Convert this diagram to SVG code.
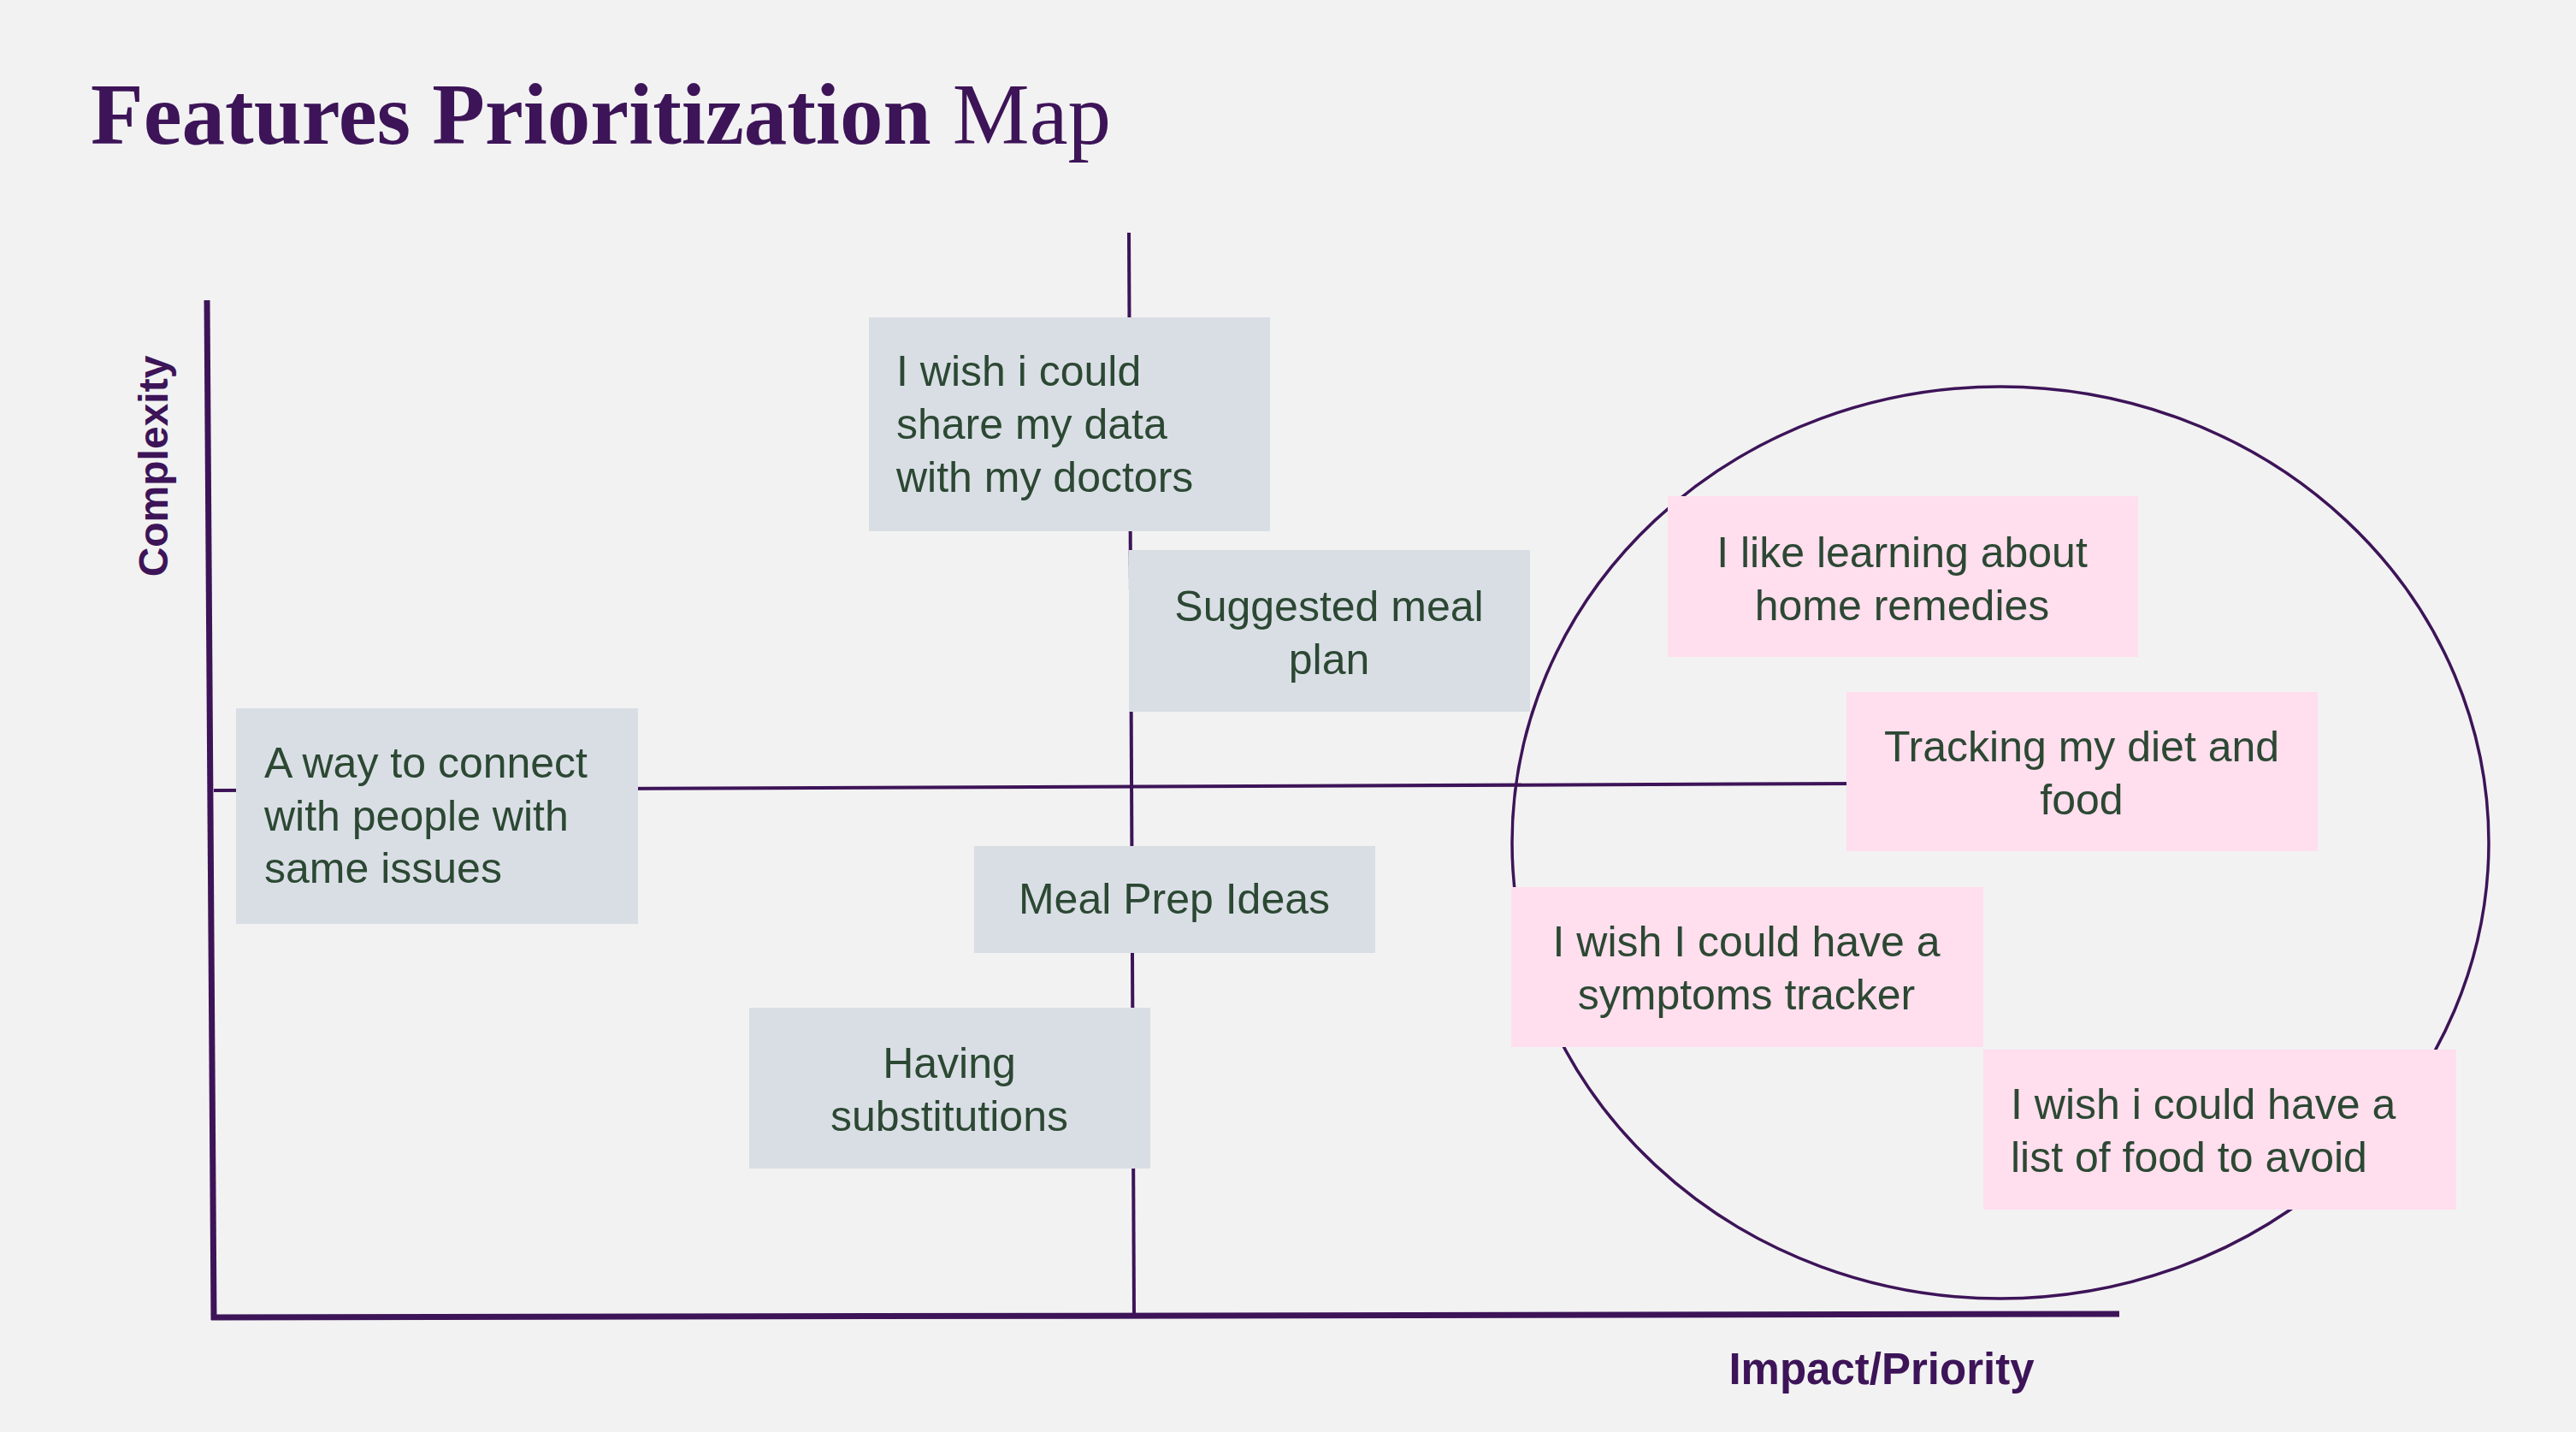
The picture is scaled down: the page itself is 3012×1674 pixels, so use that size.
<svg xmlns="http://www.w3.org/2000/svg" width="3012" height="1674" viewBox="0 0 3012 1674">
<style>
.bg{fill:#f2f2f2}
.ax{stroke:#3d1458;stroke-width:7;fill:none;stroke-linecap:butt}
.mid{stroke:#3d1458;stroke-width:4;fill:none}
.ring{stroke:#3d1458;stroke-width:3.5;fill:none}
.gray{fill:#d9dee5}
.pink{fill:#ffdeee}
.t{font-family:"Liberation Sans",Arial,sans-serif;font-size:50px;fill:#2c4833}
.c{text-anchor:middle}
.lab{font-family:"Liberation Sans",Arial,sans-serif;font-size:48px;font-weight:bold;fill:#3d1458}
.lab2{font-size:51px}
.title{font-family:"Liberation Serif","Times New Roman",serif;font-size:101px;fill:#3d1458}
</style>
<rect class="bg" x="0" y="0" width="3012" height="1674"/>
<text class="title" x="106" y="168"><tspan font-weight="bold">Features Prioritization</tspan> Map</text>
<g id="connectors">
<line class="ax" x1="242" y1="351" x2="250" y2="1543"/>
<line class="ax" x1="247" y1="1540" x2="2478" y2="1536"/>
<line class="mid" x1="250" y1="924" x2="2170" y2="916"/>
<line class="mid" x1="1320" y1="272" x2="1326" y2="1537"/>
<ellipse class="ring" cx="2339" cy="985" rx="571" ry="533"/>
</g>
<text class="lab" transform="translate(196,545) rotate(-90)" text-anchor="middle">Complexity</text>
<text class="lab lab2" x="2200" y="1618" text-anchor="middle">Impact/Priority</text>
<g id="n-share">
<rect class="gray" x="1016" y="371" width="469" height="250"/>
<text class="t" x="1048" y="451">I wish i could</text>
<text class="t" x="1048" y="513">share my data</text>
<text class="t" x="1048" y="575">with my doctors</text>
</g>
<g id="n-meal-plan">
<rect class="gray" x="1320" y="643" width="469" height="189"/>
<text class="t c" x="1554" y="726">Suggested meal</text>
<text class="t c" x="1554" y="788">plan</text>
</g>
<g id="n-connect">
<rect class="gray" x="276" y="828" width="470" height="252"/>
<text class="t" x="309" y="909">A way to connect</text>
<text class="t" x="309" y="971">with people with</text>
<text class="t" x="309" y="1032">same issues</text>
</g>
<g id="n-meal-prep">
<rect class="gray" x="1139" y="989" width="469" height="125"/>
<text class="t c" x="1373" y="1068">Meal Prep Ideas</text>
</g>
<g id="n-subst">
<rect class="gray" x="876" y="1178" width="469" height="188"/>
<text class="t c" x="1110" y="1260">Having</text>
<text class="t c" x="1110" y="1322">substitutions</text>
</g>
<g id="n-remedies">
<rect class="pink" x="1950" y="580" width="550" height="188"/>
<text class="t c" x="2224" y="663">I like learning about</text>
<text class="t c" x="2224" y="725">home remedies</text>
</g>
<g id="n-tracking">
<rect class="pink" x="2159" y="809" width="551" height="186"/>
<text class="t c" x="2434" y="890">Tracking my diet and</text>
<text class="t c" x="2434" y="952">food</text>
</g>
<g id="n-symptoms">
<rect class="pink" x="1767" y="1037" width="552" height="187"/>
<text class="t c" x="2042" y="1118">I wish I could have a</text>
<text class="t c" x="2042" y="1180">symptoms tracker</text>
</g>
<g id="n-avoid">
<rect class="pink" x="2319" y="1227" width="553" height="187"/>
<text class="t" x="2351" y="1308">I wish i could have a</text>
<text class="t" x="2351" y="1370">list of food to avoid</text>
</g>
</svg>
